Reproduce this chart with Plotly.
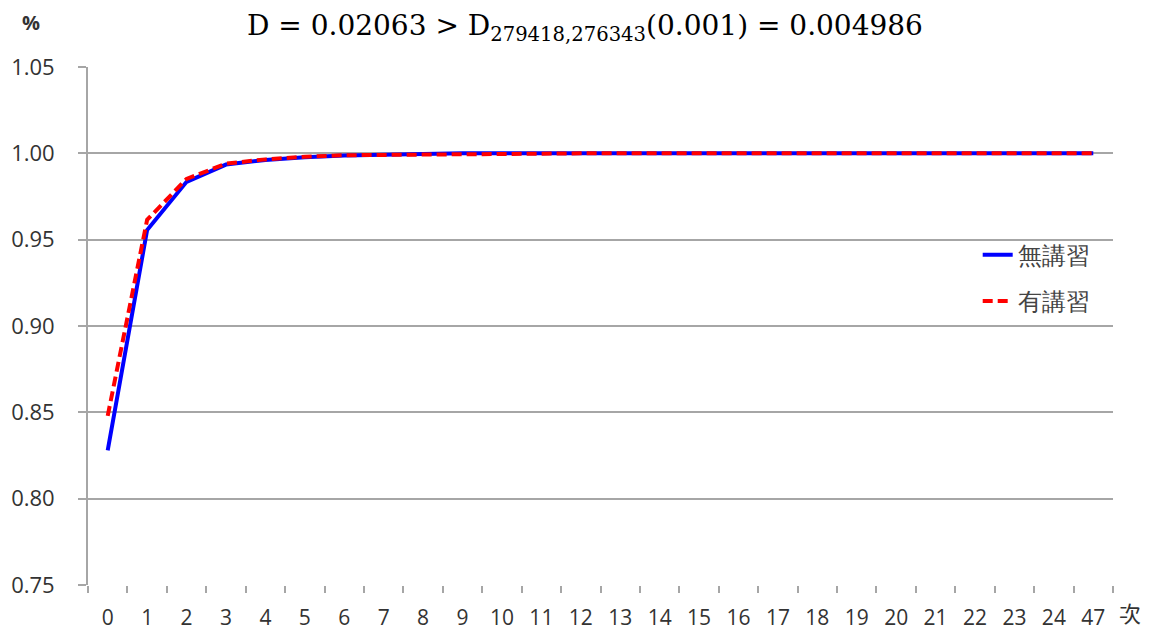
import plotly.graph_objects as go

categories = ["0","1","2","3","4","5","6","7","8","9","10","11","12","13","14","15","16","17","18","19","20","21","22","23","24","47"]
no_practice = [0.828, 0.9556, 0.9835, 0.9935, 0.9962, 0.9978, 0.9988, 0.9992, 0.9998, 1.0, 1.0, 1.0, 1.0, 1.0, 1.0, 1.0, 1.0, 1.0, 1.0, 1.0, 1.0, 1.0, 1.0, 1.0, 1.0, 1.0]
with_practice = [0.848, 0.9615, 0.9852, 0.9940, 0.9965, 0.9980, 0.9989, 0.9991, 0.9993, 0.9999, 1.0, 1.0, 1.0, 1.0, 1.0, 1.0, 1.0, 1.0, 1.0, 1.0, 1.0, 1.0, 1.0, 1.0, 1.0, 1.0]
y_ticks = [0.75, 0.80, 0.85, 0.90, 0.95, 1.00, 1.05]

fig = go.Figure()
fig.add_trace(go.Scatter(x=categories, y=no_practice, mode="lines", name="無講習",
                         legendgroup="a", line=dict(color="#0000ff", width=4)))
fig.add_trace(go.Scatter(x=categories, y=with_practice, mode="lines", name="有講習",
                         legendgroup="b", line=dict(color="#ff0000", width=4, dash="10px,5px")))

fig.update_layout(
    width=1150, height=630,
    margin=dict(l=80, r=45, t=59, b=53, autoexpand=False),
    paper_bgcolor="white", plot_bgcolor="white",
    font=dict(family="Open Sans, Lato, sans-serif", size=20, color="#333333"),
    showlegend=True,
    legend=dict(x=0.868, y=0.68, xanchor="left", yanchor="top", bgcolor="rgba(0,0,0,0)",
                font=dict(size=24, color="#444444"), tracegroupgap=12, traceorder="grouped"),
    annotations=[
        dict(text="D = 0.02063 > D<sub>279418,276343</sub>(0.001) = 0.004986", xref="paper", yref="paper",
             x=0.485, y=1.0, yshift=40, showarrow=False, xanchor="center", yanchor="middle",
             font=dict(family="DejaVu Serif, Liberation Serif, serif", size=28, color="black")),
        dict(text="<b>%</b>", xref="paper", yref="paper", x=0, xshift=-68, y=1.0, yshift=45,
             showarrow=False, xanchor="left", yanchor="middle",
             font=dict(size=20, color="#333333")),
        dict(text="次", xref="paper", yref="paper", x=1.0, xshift=4, y=0, yshift=-27,
             showarrow=False, xanchor="left", yanchor="middle",
             font=dict(family="Noto Sans CJK TC, serif", size=22, color="#333333")),
    ],
)
fig.update_xaxes(type="category", categoryorder="array", categoryarray=categories,
                 tickson="boundaries", ticks="outside", ticklen=7, tickcolor="#a6a6a6",
                 tickwidth=1.5, ticklabelstandoff=18, automargin=False,
                 showgrid=False, showline=False, tickfont=dict(size=21, color="#333333"),
                 range=[-0.5, len(categories) - 0.5], zeroline=False)
fig.update_yaxes(range=[0.75, 1.05], tickvals=y_ticks, tickformat=".2f",
                 showgrid=True, gridcolor="#a6a6a6", gridwidth=1.8,
                 showline=True, linecolor="#a6a6a6", linewidth=1.8,
                 ticks="outside", ticklen=8, tickcolor="#a6a6a6", tickwidth=1.8,
                 ticklabelstandoff=19, automargin=False,
                 tickfont=dict(size=22, color="#333333"), zeroline=False)

fig.write_html("out.html")
